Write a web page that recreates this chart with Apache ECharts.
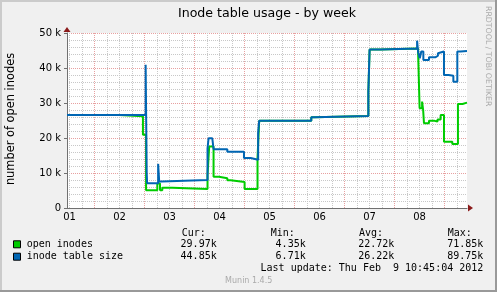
<!DOCTYPE html>
<html><head><meta charset="utf-8">
<script src="https://cdn.jsdelivr.net/npm/echarts@6/dist/echarts.min.js"></script>
<style>html,body{margin:0;padding:0;background:#F0F0F0}#c{width:497px;height:292px}</style>
</head><body><div id="c"></div>
<script>
// ---- data (x = hours since Feb 1 00:00, y = inodes) ----
const dayLabels = ['01','02','03','04','05','06','07','08'];
const labelHours = [12,36,60,84,108,132,156,180];
const midnightHours = [24,48,72,96,120,144,168,192];
const sixHourTicks = [12,18,30,36,42,54,60,66,78,84,90,102,108,114,126,132,138,150,156,162,174,180,186,198];
const xMin = 10.75, xMax = 202.75;

const openHours  = [10.75,35.7,47.2,48.7,54.1,55.4,56.5,61.3,78.2,79.0,81.1,83.7,87.7,89.3,96.0,102.2,103.0,128.0,129.6,155.4,156.0,161.3,179.3,180.0,181.2,181.7,182.1,184.5,187.2,188.6,190.1,191.7,195.7,198.4,200.6,202.75];
const openValues = [26600,26200,20900,5100,7000,5100,5800,5400,9400,17600,8900,8500,7900,7400,5400,14300,24900,25900,26300,33200,45300,45600,44000,28500,30400,28000,24200,24900,24700,25300,26600,18900,18300,29700,30100,30000];

const tableHours  = [10.75,48.5,49.0,49.2,54.5,55.0,56.2,78.2,78.7,80.5,81.1,87.7,95.7,98.9,102.5,103.0,128.0,129.6,155.4,156.0,161.3,178.8,179.3,180.1,180.8,181.8,184.5,187.7,188.8,189.6,191.7,193.9,196.2,198.1,199.7,202.75];
const tableValues = [26600,40900,10000,7100,12600,7600,8000,17000,19900,19400,16800,16100,14300,13800,21400,24900,25900,26300,33200,45300,45600,47800,44500,42800,44700,42300,43100,43500,44200,44700,38000,37800,36100,44700,44850,44850];

const seriesNames = ['open inodes','inode table size'];
const seriesColors = ['#00CC00','#0066B3'];
const statHeaders = ['Cur:','Min:','Avg:','Max:'];
const statOpen  = ['29.97k','4.35k','22.72k','71.85k'];
const statTable = ['44.85k','6.71k','26.22k','89.75k'];

// ---- layout ----
const L = 67, R = 467, T = 33, B = 208;
const mono = '"DejaVu Sans Mono", monospace';
const sans = '"DejaVu Sans", sans-serif';
const chart = echarts.init(document.getElementById('c'), null, {renderer:'canvas'});

const statHeadX = [181.7, 270.7, 359, 447.7];
const statEndX  = [216.7, 305.7, 394.3, 483.3];
const graphics = [
  // frame shading
  {type:'rect', shape:{x:0,y:0,width:497,height:2}, style:{fill:'#CBCBCB'}, silent:true},
  {type:'rect', shape:{x:0,y:0,width:2,height:292}, style:{fill:'#CBCBCB'}, silent:true},
  {type:'rect', shape:{x:0,y:290,width:497,height:2}, style:{fill:'#999999'}, silent:true},
  {type:'rect', shape:{x:495,y:0,width:2,height:292}, style:{fill:'#999999'}, silent:true},
  // title
  {type:'text', x:267, y:14, style:{text:'Inode table usage - by week', font:'12.6px '+sans, fill:'#000', align:'center', verticalAlign:'middle'}},
  // y axis name
  {type:'text', x:11.5, y:119, rotation:Math.PI/2, style:{text:'number of open inodes', font:'11.4px '+sans, fill:'#000', align:'center', verticalAlign:'middle'}},
  // watermark
  {type:'text', x:488.5, y:6, rotation:-Math.PI/2, style:{text:'RRDTOOL / TOBI OETIKER', font:'7.8px '+sans, fill:'#AAAAAA', align:'left', verticalAlign:'middle'}},
  // arrows
  {type:'polygon', shape:{points:[[L-3.5,T-1],[L+3.5,T-1],[L,T-6]]}, style:{fill:'#8B1A1A'}, z:10},
  {type:'polygon', shape:{points:[[R+1,B-3.5],[R+1,B+3.5],[R+6,B]]}, style:{fill:'#8B1A1A'}, z:10},
  // last update / munin
  {type:'text', x:483.3, y:268.7, style:{text:'Last update: Thu Feb  9 10:45:04 2012', font:'10px '+mono, fill:'#000', align:'right', verticalAlign:'middle'}},
  {type:'text', x:248.7, y:281, style:{text:'Munin 1.4.5', font:'8px '+sans, fill:'#AAAAAA', align:'center', verticalAlign:'middle'}}
];
statHeaders.forEach((h,i)=>graphics.push({type:'text', x:statHeadX[i], y:233.3, style:{text:h, font:'10px '+mono, fill:'#000', align:'left', verticalAlign:'middle'}}));
[statOpen, statTable].forEach((row,r)=>{
  const yy = r===0 ? 244.3 : 256.7;
  graphics.push({type:'rect', shape:{x:13.5,y:yy-3.5,width:7,height:7}, style:{fill:seriesColors[r], stroke:'#000', lineWidth:1}});
  graphics.push({type:'text', x:26.7, y:yy, style:{text:seriesNames[r], font:'10px '+mono, fill:'#000', align:'left', verticalAlign:'middle'}});
  row.forEach((v,i)=>graphics.push({type:'text', x:statEndX[i], y:yy, style:{text:v, font:'10px '+mono, fill:'#000', align:'right', verticalAlign:'middle'}}));
});

const gridStyleMinor = {color:'#C8C8C8', width:1, type:[1,1]};
const gridStyleMajor = {color:'#E8A0A0', width:1, type:[1,1]};

chart.setOption({
  animation:false,
  backgroundColor:'#F0F0F0',
  grid:{left:L, top:T, width:R-L, height:B-T, show:true, backgroundColor:'#FFFFFF', borderWidth:0, containLabel:false},
  xAxis:[
    {type:'value', min:xMin, max:xMax, position:'bottom',
     axisLine:{show:true, lineStyle:{color:'#707070', width:1}},
     axisTick:{show:false},
     axisLabel:{customValues:labelHours, margin:4, color:'#000', fontFamily:sans, fontSize:10,
       formatter:(v)=>{const i=labelHours.indexOf(v); return i>=0?dayLabels[i]:'';}},
     splitLine:{show:false}},
    {type:'value', min:xMin, max:xMax, position:'top', axisLine:{show:false}, axisLabel:{show:false},
     axisTick:{show:false, customValues:sixHourTicks}, splitLine:{show:true, lineStyle:gridStyleMinor}},
    {type:'value', min:xMin, max:xMax, position:'top', axisLine:{show:false}, axisLabel:{show:false},
     axisTick:{show:false, customValues:midnightHours}, splitLine:{show:true, lineStyle:gridStyleMajor}}
  ],
  yAxis:[{type:'value', min:0, max:50000, interval:10000,
    axisLine:{show:true, lineStyle:{color:'#707070', width:1}},
    axisTick:{show:true, length:3, lineStyle:{color:'#707070'}},
    axisLabel:{margin:6, color:'#000', fontFamily:sans, fontSize:10, formatter:(v)=>v===0?'0':(v/1000)+' k'},
    splitLine:{show:true, lineStyle:gridStyleMajor},
    minorTick:{show:false, splitNumber:5},
    minorSplitLine:{show:true, lineStyle:gridStyleMinor}}],
  series:[
    {name:seriesNames[0], type:'line', step:'end', xAxisIndex:0, showSymbol:false, symbol:'none',
     data:openHours.map((h,i)=>[h, openValues[i]]), lineStyle:{color:seriesColors[0], width:2}, z:3},
    {name:seriesNames[1], type:'line', step:'end', xAxisIndex:0, showSymbol:false, symbol:'none',
     data:tableHours.map((h,i)=>[h, tableValues[i]]), lineStyle:{color:seriesColors[1], width:2}, z:4}
  ],
  graphic:graphics
});
</script></body></html>
